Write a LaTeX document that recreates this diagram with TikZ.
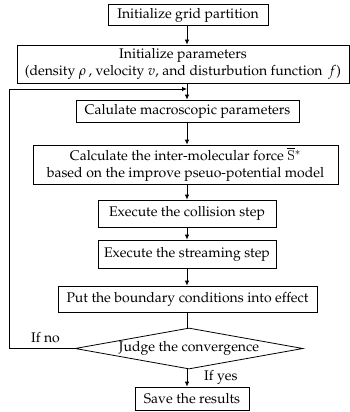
\documentclass[tikz,border=0pt]{standalone}
\usepackage[T1]{fontenc}
\usepackage{mathpazo}
\usetikzlibrary{arrows.meta,shapes.geometric}
\begin{document}
\begin{tikzpicture}[x=1pt,y=-1pt,
  font=\fontsize{14}{16.5}\selectfont,
  stepbox/.style={draw,line width=0.8pt,inner sep=0pt,align=center},
  flow/.style={draw,line width=0.8pt,-{Latex[length=5pt,width=4.5pt]}},
  plain/.style={draw,line width=0.8pt}]
\useasboundingbox (0,0) rectangle (350,412);

\node[stepbox,minimum width=160pt,minimum height=21pt] (init) at (188,15) {Initialize grid partition};
\node[stepbox,minimum width=332pt,minimum height=38pt] (param) at (183,64)
  {Initialize parameters\\(density $\rho$\,, velocity $v$, and disturbution function \,$f$)};
\node[stepbox,minimum width=223pt,minimum height=22pt] (macro) at (187.5,111) {Calulate macroscopic parameters};
\node[stepbox,minimum width=305pt,minimum height=39pt] (force) at (185.5,164.5)
  {Calculate the inter-molecular force $\overline{\textsf{\textbf{S}}}{}^{*}$\\based on the improve pseuo-potential model};
\node[stepbox,minimum width=178pt,minimum height=27pt] (coll) at (187,213.5) {Execute the collision step};
\node[stepbox,minimum width=178pt,minimum height=28pt] (stream) at (187,254) {Execute the streaming step};
\node[stepbox,minimum width=259pt,minimum height=26pt] (bound) at (187.5,299) {Put the boundary conditions into effect};
\node[draw,line width=0.8pt,diamond,aspect=5.4,inner sep=0pt,minimum width=228pt,minimum height=41pt] (judge) at (189,348.5) {Judge the convergence};
\node[stepbox,minimum width=114pt,minimum height=23pt] (save) at (192,398.5) {Save the results};

\coordinate (loopL) at (9,348.5);
\coordinate (loopT) at (9,89);
\coordinate (join) at (187,89);

\draw[flow] (init.south -| 187,0) -- (param.north -| 187,0);
\draw[flow] (param.south -| 187,0) -- (macro.north -| 187,0);
\draw[flow] (macro.south -| 187,0) -- (force.north -| 187,0);
\draw[flow] (force.south -| 187,0) -- (coll.north);
\draw[flow] (coll.south) -- (stream.north);
\draw[flow] (stream.south) -- (bound.north -| 187,0);
\draw[plain] (bound.south -| 187,0) -- (judge.north -| 187,0);
\draw[flow] (judge.south -| 187,0) -- (save.north -| 187,0);
\draw[flow] (judge.west) -- (loopL) -- (loopT) -- (join);

\node[anchor=base west,inner sep=0pt] (ifno) at (31,342) {If no};
\node[anchor=base west,inner sep=0pt] (ifyes) at (204,380) {If yes};
\end{tikzpicture}
\end{document}
